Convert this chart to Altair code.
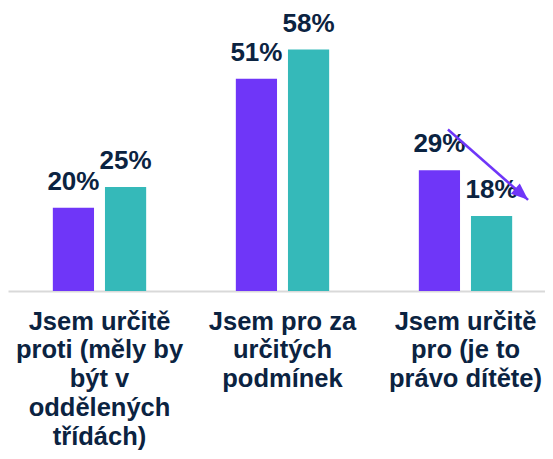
import altair as alt
import pandas as pd

categories = [
    "Jsem určitě|proti (měly by|být v|oddělených|třídách)",
    "Jsem pro za|určitých|podmínek",
    "Jsem určitě|pro (je to|právo dítěte)",
]
series = ["Skupina 1", "Skupina 2"]
values_1 = [20, 51, 29]
values_2 = [25, 58, 18]
colors = ["#6F36F8", "#35B9B9"]
navy = "#0B2341"
font = "Liberation Sans"

# arrow annotation (x in category units, y in %)
arrow_x = [2.404, 2.842]
arrow_y = [38.8, 21.9]

rows = []
for c, v1, v2 in zip(categories, values_1, values_2):
    rows.append({"cat": c, "series": series[0], "value": v1, "label": f"{v1}%"})
    rows.append({"cat": c, "series": series[1], "value": v2, "label": f"{v2}%"})
df = pd.DataFrame(rows)

W = 537          # visible svg width (page margin 8 on both sides)
XR = 549         # x range of the category scale
H = 283
ymax = 68.0
x_enc = alt.X(
    "cat:N",
    sort=categories,
    scale=alt.Scale(paddingInner=0.49, paddingOuter=0.245, range=[0, XR]),
    axis=alt.Axis(
        title=None,
        labelExpr="split(datum.label, '|')",
        labelAngle=0,
        labelFontSize=25.5,
        labelFont=font,
        labelFontWeight="bold",
        labelColor=navy,
        labelLineHeight=28.9,
        labelPadding=18,
        labelBaseline="top",
        labelLimit=0,
        ticks=False,
        domainColor="#D9D9D9",
        domainWidth=2,
        grid=False,
    ),
)
xoff = alt.XOffset("series:N", sort=series, scale=alt.Scale(paddingInner=0.21))
y_enc = alt.Y("value:Q", scale=alt.Scale(domain=[0, ymax]), axis=None)

bars = alt.Chart(df).mark_bar().encode(
    x=x_enc,
    xOffset=xoff,
    y=y_enc,
    color=alt.Color("series:N", scale=alt.Scale(domain=series, range=colors), legend=None),
)
text = alt.Chart(df).mark_text(
    font=font, fontSize=26, fontWeight="bold", color=navy, baseline="alphabetic", dy=-18
).encode(x=x_enc, xOffset=xoff, y=y_enc, text="label:N")

arrow_df = pd.DataFrame({"x": [arrow_x[0]], "x2": [arrow_x[1]], "y": [arrow_y[0]], "y2": [arrow_y[1]]})
xq = alt.X("x:Q", scale=alt.Scale(domain=[0, XR / 183], range=[0, XR], nice=False, zero=False), axis=None)
yq = alt.Y("y:Q", scale=alt.Scale(domain=[0, ymax]), axis=None)
arrow_line = alt.Chart(arrow_df).mark_rule(color=colors[0], strokeWidth=2.5).encode(
    x=xq, x2="x2:Q", y=yq, y2="y2:Q"
)
head_df = pd.DataFrame({"x": [arrow_x[1]], "y": [arrow_y[1]]})
arrow_head = alt.Chart(head_df).mark_point(
    shape="M0,0 L-1,-0.4 L-1,0.4 Z", filled=True, size=1156, angle=41.2,
    color=colors[0], opacity=1, strokeWidth=0
).encode(x=xq, y=yq)

chart = (
    alt.layer(alt.layer(bars, text), arrow_line, arrow_head)
    .resolve_scale(x="independent")
    .properties(
        width=W,
        height=H,
        autosize=alt.AutoSizeParams(type="none"),
        padding={"left": 0, "top": 0, "right": 0, "bottom": 160},
    )
    .configure_view(stroke=None)
)
chart.save("out.html", embed_options={"renderer": "svg", "actions": False})
